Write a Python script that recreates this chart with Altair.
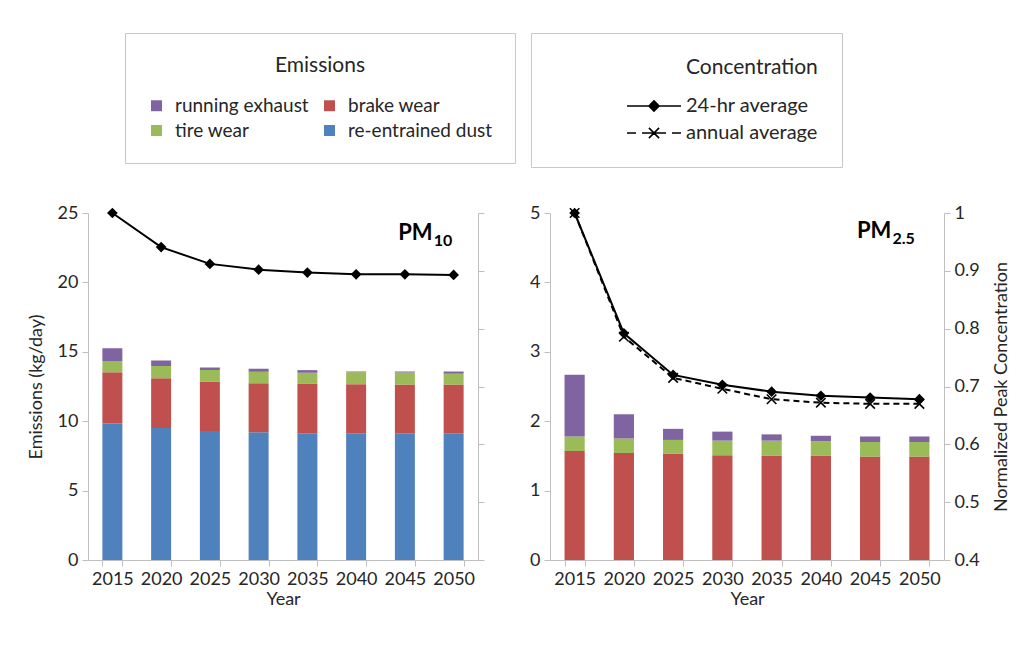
import altair as alt
import pandas as pd

years = ["2015", "2020", "2025", "2030", "2035", "2040", "2045", "2050"]
# legend order (column-major in a 2-column legend)
components = ["running exhaust", "tire wear", "brake wear", "re-entrained dust"]
comp_colors = ["#8064A2", "#9BBB59", "#C0504D", "#4F81BD"]
stack_rank = {"re-entrained dust": 0, "brake wear": 1, "tire wear": 2, "running exhaust": 3}

# PM10 emissions (kg/day)
pm10_dust = [9.83, 9.51, 9.30, 9.20, 9.13, 9.13, 9.13, 9.13]
pm10_brake = [3.70, 3.59, 3.56, 3.54, 3.56, 3.54, 3.51, 3.51]
pm10_tire = [0.80, 0.87, 0.82, 0.82, 0.80, 0.86, 0.87, 0.78]
pm10_exhaust = [0.92, 0.41, 0.19, 0.22, 0.19, 0.05, 0.07, 0.16]
# PM2.5 emissions (kg/day)
pm25_brake = [1.57, 1.54, 1.53, 1.51, 1.50, 1.50, 1.49, 1.49]
pm25_tire = [0.21, 0.21, 0.20, 0.21, 0.22, 0.21, 0.21, 0.21]
pm25_exhaust = [0.89, 0.35, 0.16, 0.13, 0.09, 0.08, 0.08, 0.08]

# normalized peak concentration
series = ["24-hr average", "annual average"]
pm10_24hr = [1.0, 0.941, 0.912, 0.902, 0.897, 0.894, 0.894, 0.893]
pm25_24hr = [1.0, 0.792, 0.720, 0.703, 0.691, 0.684, 0.681, 0.678]
pm25_annual = [1.0, 0.786, 0.715, 0.696, 0.678, 0.672, 0.670, 0.670]

FONT = "Lato"
TXT = "#262626"
AX = "#bfbfbf"


def emis_df(parts):
    rows = []
    for name, vals in parts.items():
        for y, v in zip(years, vals):
            rows.append({"year": y, "component": name, "value": v, "rank": stack_rank[name]})
    return pd.DataFrame(rows)


def conc_df(parts):
    rows = []
    for name, vals in parts.items():
        for y, v in zip(years, vals):
            rows.append({"year": y, "series": name, "conc": v})
    return pd.DataFrame(rows)


pm10_emis = emis_df({"re-entrained dust": pm10_dust, "brake wear": pm10_brake,
                     "tire wear": pm10_tire, "running exhaust": pm10_exhaust})
pm25_emis = emis_df({"brake wear": pm25_brake, "tire wear": pm25_tire,
                     "running exhaust": pm25_exhaust})
pm10_conc = conc_df({"24-hr average": pm10_24hr})
pm25_conc = conc_df({"24-hr average": pm25_24hr, "annual average": pm25_annual})

x_enc = alt.X("year:N", sort=years,
              scale=alt.Scale(paddingInner=0.59, paddingOuter=0.295),
              axis=alt.Axis(title="Year", labelAngle=0, tickBand="extent", titlePadding=2))
x_plain = alt.X("year:N", sort=years)

# legend glyphs (stroke-only custom symbols: line + marker)
sym_solid = ("M-4.5,0H4.5"
             "M0,-0.85L0.85,0L0,0.85L-0.85,0Z"
             "M0,-0.57L0.57,0L0,0.57L-0.57,0Z"
             "M0,-0.29L0.29,0L0,0.29L-0.29,0Z"
             "M0,-0.85V0.85")
sym_dash = ("M-4.5,0H-3M-2,0H2M3,0H4.5"
            "M-0.85,-0.85L0.85,0.85M-0.85,0.85L0.85,-0.85")
x_path = "M-1,-1L1,1M-1,1L1,-1"


def panel(emis, conc, ymax, lab, sub, sub_dx, ann_y, right_labels, left_title, with_legend, w):
    bars = alt.Chart(emis).mark_bar().encode(
        x=x_enc,
        y=alt.Y("sum(value):Q", stack="zero",
                scale=alt.Scale(domain=[0, ymax], nice=False),
                axis=alt.Axis(title=left_title, values=list(range(0, ymax + 1, ymax // 5)),
                              format="d", titlePadding=12)),
        color=alt.Color("component:N", scale=alt.Scale(domain=components, range=comp_colors),
                        legend=alt.Legend(title="Emissions", orient="none", legendX=37, legendY=-180,
                                          columns=2, symbolType="square", symbolSize=120,
                                          columnPadding=11, rowPadding=5, titlePadding=20,
                                          titleAnchor="middle", padding=22, strokeColor="#c8c8c8",
                                          labelFontSize=19, titleFontSize=21, titleFontWeight="normal",
                                          symbolStrokeWidth=0, labelOffset=9)),
        order=alt.Order("rank:Q", sort="ascending"),
    )
    ann = pd.DataFrame({"year": ["2050"], "ty": [ann_y], "lab": [lab], "sub": [sub]})
    t1 = alt.Chart(ann).mark_text(align="right", baseline="alphabetic", fontSize=22, fontWeight="bold",
                                  font=FONT, color="black", dx=sub_dx).encode(
        x=x_plain, y=alt.Y("ty:Q"), text="lab:N")
    t2 = alt.Chart(ann).mark_text(align="left", baseline="alphabetic", fontSize=16,
                                  fontWeight="bold", font=FONT, color="black",
                                  dx=sub_dx + 1, dy=6).encode(
        x=x_plain, y=alt.Y("ty:Q"), text="sub:N")
    left = alt.layer(bars, t1, t2)

    yr = alt.Y("conc:Q", scale=alt.Scale(domain=[0.4, 1.0], nice=False),
               axis=alt.Axis(orient="right", values=[0.4, 0.5, 0.6, 0.7, 0.8, 0.9, 1.0],
                             labels=right_labels, format=".1~f",
                             title="Normalized Peak Concentration" if right_labels else None,
                             titleAngle=270, titlePadding=31))
    base = alt.Chart(conc)
    layers = []
    if "annual average" in set(conc["series"]):
        ann_line = base.transform_filter(alt.datum.series == "annual average").mark_line(
            color="black", strokeWidth=2, strokeDash=[6, 4]).encode(x=x_plain, y=yr)
        xs = base.transform_filter(alt.datum.series == "annual average").mark_point(
            shape=x_path, filled=False, color="black", size=90, strokeWidth=1.6, opacity=1).encode(
            x=x_plain, y=alt.Y("conc:Q"))
        layers += [ann_line, xs]
        day_y = alt.Y("conc:Q")
    else:
        day_y = yr
    day_line = base.transform_filter(alt.datum.series == "24-hr average").mark_line(
        color="black", strokeWidth=2).encode(x=x_plain, y=day_y)
    dia = base.transform_filter(alt.datum.series == "24-hr average").mark_point(
        shape="diamond", filled=True, color="black", size=115, opacity=1).encode(
        x=x_plain, y=alt.Y("conc:Q"))
    layers += [day_line, dia]
    if with_legend:
        leg = base.mark_point(filled=False, color="black", strokeWidth=1.6, opacity=0).encode(
            x=x_plain, y=alt.Y("conc:Q"),
            shape=alt.Shape("series:N", scale=alt.Scale(domain=series, range=[sym_solid, sym_dash]),
                            legend=alt.Legend(title="Concentration", orient="none", legendX=443,
                                              legendY=-180, symbolSize=144,
                                              symbolStrokeWidth=1.6, symbolOffset=89,
                                              symbolOpacity=1, rowPadding=7, titlePadding=18,
                                              titleAnchor="middle", titleAlign="left",
                                              padding=24, strokeColor="#c8c8c8",
                                              labelFontSize=20, titleFontSize=21,
                                              titleFontWeight="normal", labelOffset=22)))
        layers.append(leg)
    right = alt.layer(*layers)
    return alt.layer(left, right).resolve_scale(y="independent").properties(width=w, height=347)


p10 = panel(pm10_emis, pm10_conc, 25, "PM", "10", -21, 23.05, False, "Emissions (kg/day)", False, 390)
p25 = panel(pm25_emis, pm25_conc, 5, "PM", "2.5", -28, 4.64, True, None, True, 394)

chart = alt.hconcat(p10, p25, spacing=44).properties(
    padding={"left": 19, "top": 24, "right": 0, "bottom": 5},
    background="white",
).configure_view(stroke=None).configure_axis(
    labelFont=FONT, titleFont=FONT, labelFontSize=18, titleFontSize=18, titleFontWeight="normal",
    labelColor=TXT, titleColor=TXT, domainColor=AX, tickColor=AX, tickSize=6, grid=False,
    labelPadding=4,
).configure_legend(labelFont=FONT, titleFont=FONT, labelColor=TXT, titleColor=TXT)

chart.save("out.html", embed_options={"renderer": "svg", "actions": False})
